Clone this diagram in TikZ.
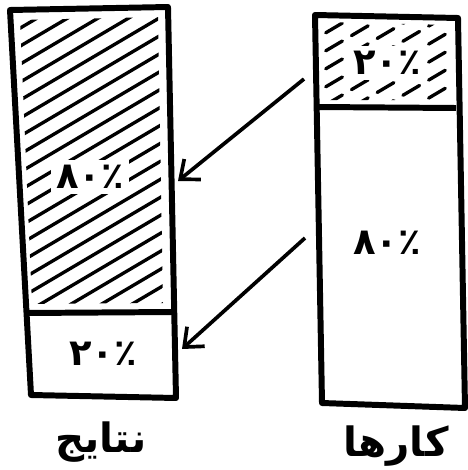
\documentclass[tikz,border=0pt]{standalone}
\usepackage{fontspec}
\usetikzlibrary{arrows.meta}
\TeXXeTstate=1
\newfontfamily\arabicfont[Script=Arabic]{DejaVu Sans}
\tikzstyle{sketch} = [x = 0.02cm, y = -0.02cm]
\tikzstyle{barStyle} = [line width=3.4pt, line join=round]
\tikzstyle{hatchLine} = [line width=1.9pt, line cap=round]
\tikzstyle{dashHatch} = [hatchLine, dash pattern=on 11pt off 6pt]
\tikzstyle{barText} = [font=\arabicfont\bfseries\fontsize{21}{21}\selectfont, fill=white, inner sep=3pt]
\tikzstyle{labelText} = [font=\arabicfont\bfseries\fontsize{23}{23}\selectfont]
\tikzstyle{arrowLine} = [line width=2.1pt, -{Straight Barb[length=9pt, width=15pt]}]
\newcommand{\hatchArea}[4]{
  \begin{scope}
    \clip #1;
    \foreach \hatchY in {#3} {
      \draw [#2] (#4, \hatchY) -- + (300, -177);
    }
  \end{scope}
}

\begin{document}
\begin{tikzpicture}[sketch]
  \useasboundingbox (0,0) rectangle (467,470);
  \coordinate (resultTopLeft) at (10,10);
  \coordinate (resultTopRight) at (168,7);
  \coordinate (resultMidLeft) at (26,313);
  \coordinate (resultMidRight) at (173,312);
  \coordinate (resultBottomLeft) at (31,395);
  \coordinate (resultBottomRight) at (176,398);
  \coordinate (taskTopLeft) at (315,15);
  \coordinate (taskTopRight) at (458,18);
  \coordinate (taskMidLeft) at (317,107);
  \coordinate (taskMidRight) at (456,108);
  \coordinate (taskBottomLeft) at (322,403);
  \coordinate (taskBottomRight) at (465,408);
  \hatchArea{(20,20) -- (158,17) -- (163,303) -- (32,304) -- cycle}{hatchLine}{22,40,...,420}{0}
  \hatchArea{(322,22) -- (451,25) -- (449,100) -- (324,100) -- cycle}{dashHatch}{30,48,...,200}{300}
  \draw [barStyle] (resultTopLeft) -- (resultTopRight) -- (resultBottomRight) -- (resultBottomLeft) -- cycle;
  \draw [barStyle] (resultMidLeft) -- (resultMidRight);
  \draw [barStyle] (taskTopLeft) -- (taskTopRight) -- (taskBottomRight) -- (taskBottomLeft) -- cycle;
  \draw [barStyle] (taskMidLeft) -- (taskMidRight);
  \node [barText] (resultBig) at (90,177) {۸۰٪};
  \node [barText] (resultSmall) at (103,354) {۲۰٪};
  \node [barText] (taskSmall) at (387,63) {۲۰٪};
  \node [barText] (taskBig) at (387,243) {۸۰٪};
  \node [labelText] (resultLabel) at (101,442) {\beginR نتایج\endR};
  \node [labelText] (taskLabel) at (396,446) {\beginR کارها\endR};
  \coordinate (arrowOneStart) at (304,79);
  \coordinate (arrowOneEnd) at (178,181);
  \coordinate (arrowTwoStart) at (305,238);
  \coordinate (arrowTwoEnd) at (182,349);
  \draw [arrowLine] (arrowOneStart) -- (arrowOneEnd);
  \draw [arrowLine] (arrowTwoStart) -- (arrowTwoEnd);
\end{tikzpicture}
\end{document}
